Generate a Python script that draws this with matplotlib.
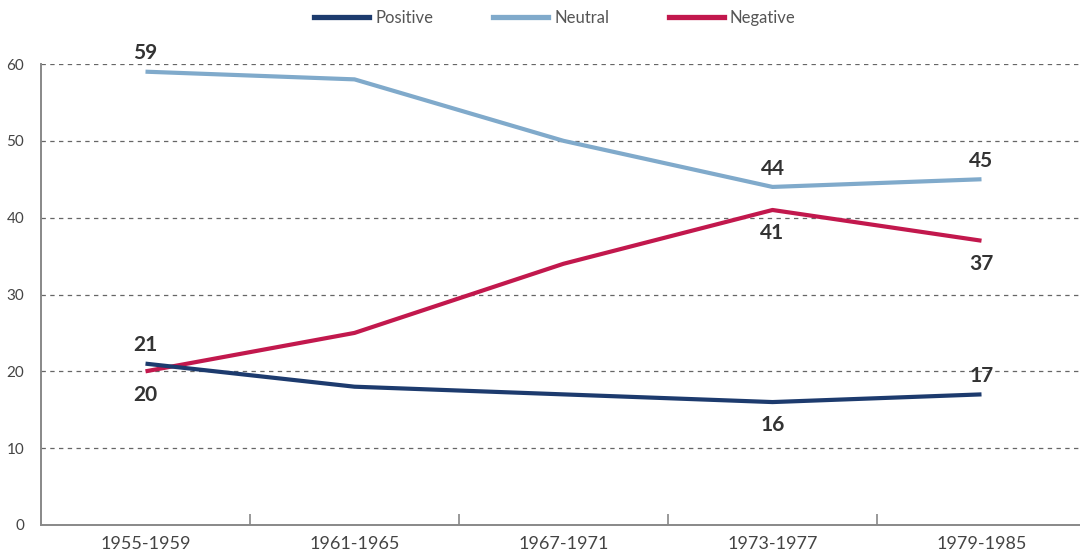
import matplotlib
matplotlib.use("Agg")
import matplotlib.pyplot as plt
from matplotlib.lines import Line2D

plt.rcParams['font.family'] = ['Lato', 'DejaVu Sans']

periods = ["1955-1959", "1961-1965", "1967-1971", "1973-1977", "1979-1985"]
positive = [21, 18, 17, 16, 17]
neutral = [59, 58, 50, 44, 45]
negative = [20, 25, 34, 41, 37]

# value labels: (index, above?)
pos_labels = [(0, True), (3, False), (4, True)]
neu_labels = [(0, True), (3, True), (4, True)]
neg_labels = [(0, False), (3, False), (4, False)]

c_pos = "#1d3b6e"
c_neu = "#80aacb"
c_neg = "#c2184d"

fig = plt.figure(figsize=(10.8, 5.58), dpi=100)
ax = fig.add_axes([41/1080, 1-525/558, 1-41/1080, (525-64)/558])

x = list(range(len(periods)))
ax.plot(x, neutral, color=c_neu, lw=3.0, solid_capstyle='butt', zorder=3)
ax.plot(x, negative, color=c_neg, lw=3.0, solid_capstyle='butt', zorder=3)
ax.plot(x, positive, color=c_pos, lw=3.0, solid_capstyle='butt', zorder=4)

def annotate(series, specs):
    for i, above in specs:
        v = series[i]
        ax.annotate(str(v), (i, v), xytext=(0, 6 if above else -9.5),
                    textcoords='offset points', ha='center',
                    va='bottom' if above else 'top',
                    fontsize=15, color='#333333', fontweight='bold', zorder=5)

annotate(positive, pos_labels)
annotate(neutral, neu_labels)
annotate(negative, neg_labels)

ax.set_xlim(-0.5, 4.5 - 6/209)
ax.set_ylim(0, 60)
ax.set_yticks(range(0, 61, 10))
for y in range(10, 61, 10):
    ax.axhline(y, color='#666666', lw=0.9, ls=(0, (3.5, 3.5)), zorder=1)

ax.set_xticks(x)
ax.set_xticklabels(periods, fontsize=13, color='#444444')
ax.tick_params(axis='x', length=0, pad=8)
ax.set_xticks([0.5, 1.5, 2.5, 3.5], minor=True)
ax.tick_params(axis='x', which='minor', direction='in', length=8, width=1.2, color='#888888')
ax.tick_params(axis='y', length=0, pad=12, labelsize=11, labelcolor='#444444')

for s in ['top', 'right']:
    ax.spines[s].set_visible(False)
for s in ['left', 'bottom']:
    ax.spines[s].set_color('#888888')
    ax.spines[s].set_linewidth(1.4)

handles = [Line2D([], [], color=c_pos, lw=3.8),
           Line2D([], [], color=c_neu, lw=3.8),
           Line2D([], [], color=c_neg, lw=3.8)]
fig.legend(handles, ["Positive", "Neutral", "Negative"], ncol=3,
           loc='center', bbox_to_anchor=(555/1080, 1-18/558), frameon=False,
           fontsize=12, labelcolor='#555555', handlelength=3.3,
           handletextpad=0.35, columnspacing=3.6)

fig.savefig("out.png", dpi=100, facecolor='white')
